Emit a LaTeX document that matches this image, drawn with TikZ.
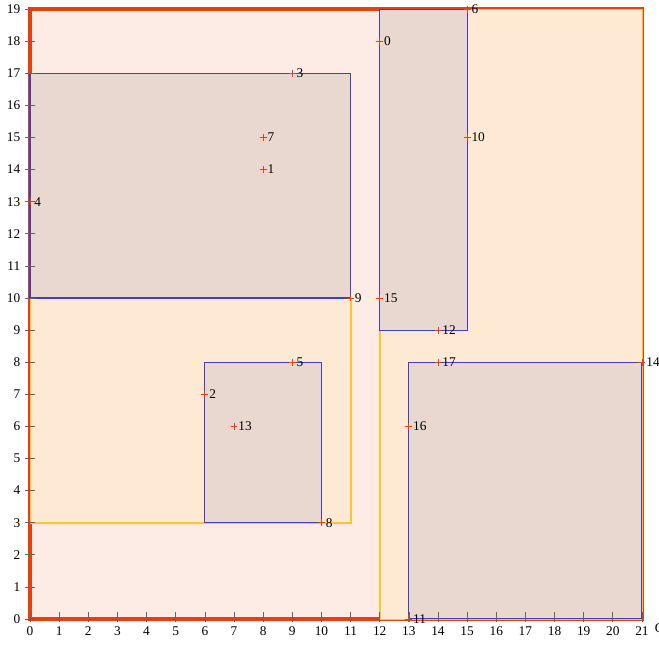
\documentclass[tikz,border=0pt]{standalone}
\usepackage{fontspec}
\setmainfont{Liberation Serif}
\definecolor{boxred}{RGB}{232, 64, 12}
\definecolor{fillred}{RGB}{253, 236, 230}
\definecolor{boxyellow}{RGB}{255, 196, 40}
\definecolor{fillyellow}{RGB}{253, 233, 212}
\definecolor{boxblue}{RGB}{64, 64, 192}
\definecolor{fillblue}{RGB}{232, 216, 207}
\definecolor{tickgray}{RGB}{100, 100, 100}
\usetikzlibrary{positioning}

\tikzset{
  outerbox/.style={draw=boxred, fill=fillred, line width=2.6pt},
  yellowbox/.style={draw=boxyellow, fill=fillyellow, line width=1.2pt},
  bluebox/.style={draw=boxblue, fill=fillblue, line width=0.8pt},
  tickline/.style={draw=tickgray, line width=0.5pt},
  ptmark/.style={draw=boxred, line width=0.6pt},
  ptlabel/.style={anchor=west, inner sep=0.5pt, xshift=2.6pt}
}

\begin{document}
\begin{tikzpicture}[x=21.86pt, y=24.08pt, font=\fontsize{10}{12}\selectfont]
    \useasboundingbox (-1.03,-0.78) rectangle (21.585,19.283);

    % Outer region
    \path[outerbox] (0,0) rectangle (21,19);

    % Yellow regions
    \path[yellowbox] ([shift={(0.4pt,-0.4pt)}]0,3) rectangle ([shift={(0.4pt,-0.4pt)}]11,10);
    \path[yellowbox] ([shift={(0.4pt,-0.4pt)}]12,0) rectangle ([shift={(0.4pt,-0.4pt)}]21,19);

    % Blue regions
    \path[bluebox] (0,10) rectangle (11,17);
    \path[bluebox] (12,9) rectangle (15,19);
    \path[bluebox] (6,3) rectangle (10,8);
    \path[bluebox] (13,0) rectangle (21,8);

    % Axis ticks
    \foreach \i in {0,...,21} {
        \draw[tickline] (\i,-0.1) -- (\i,0.22);
        \node[anchor=north, inner sep=1pt] (xl\i) at (\i,-0.2) {\i};
    }
    \foreach \j in {0,...,19} {
        \draw[tickline] (-0.17,\j) -- (0.17,\j);
        \node[anchor=east, inner sep=1pt] (yl\j) at (-0.28,\j) {\j};
    }
    \node[anchor=west, inner sep=0pt] (axisend) at (21.43,-0.3) {O};

    % Marked points
    \foreach \n/\x/\y in {0/12/18, 1/8/14, 2/6/7, 3/9/17, 4/0/13, 5/9/8,
                          6/15/19, 7/8/15, 8/10/3, 9/11/10, 10/15/15, 11/13/0,
                          12/14/9, 13/7/6, 14/21/8, 15/12/10, 16/13/6, 17/14/8} {
        \coordinate (p\n) at (\x,\y);
        \draw[ptmark] (p\n) +(-2.6pt,0) -- +(2.6pt,0) +(0,-2.6pt) -- +(0,2.6pt);
        \node[ptlabel] (l\n) at (p\n) {\n};
    }
\end{tikzpicture}
\end{document}
